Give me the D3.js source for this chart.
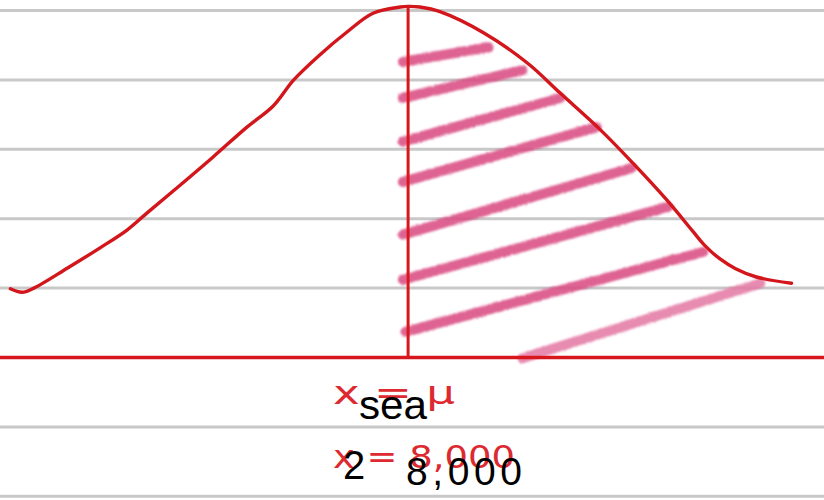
<!DOCTYPE html>
<html>
<head>
<meta charset="utf-8">
<script src="https://cdn.jsdelivr.net/npm/d3@7"></script>
<style>
  html, body { margin: 0; padding: 0; background: #ffffff; }
  svg { display: block; }
</style>
</head>
<body>
<svg id="chart" width="824" height="500"></svg>
<script>
// Ruled notebook lines, in line units (0 = the baseline axis)
const ruledLines = [5, 4, 3, 2, 1, -1, -2];
const axisLevel = 0;
const meanX = 0;

// Hand-drawn bell curve: x in standard deviations, height in line units
const curveX = [-3.06, -2.97, -2.88, -2.62, -2.37, -2.16, -2.01, -1.75, -1.50, -1.24, -1.04, -0.88, -0.68, -0.47, -0.27, -0.06, 0.00,
                0.09, 0.25, 0.58, 0.92, 1.17, 1.48, 1.73, 1.99, 2.19, 2.28, 2.40, 2.52, 2.68, 2.95];
const curveY = [0.99, 0.94, 1.00, 1.29, 1.58, 1.84, 2.08, 2.49, 2.89, 3.32, 3.62, 4.00, 4.36, 4.69, 4.96, 5.05, 5.06,
                5.05, 4.98, 4.68, 4.24, 3.81, 3.28, 2.80, 2.27, 1.82, 1.62, 1.42, 1.28, 1.16, 1.07];
const peakY = 5.06;

// Shading strokes over the right half (start and end of each stroke)
const hatchX0 = [-0.04, -0.04, -0.04, -0.04, -0.04, -0.04, -0.02, 0.88];
const hatchY0 = [4.26, 3.74, 3.11, 2.53, 1.77, 1.12, 0.37, -0.01];
const hatchX1 = [0.62, 0.88, 1.17, 1.45, 1.72, 2.00, 2.27, 2.71];
const hatchY1 = [4.47, 4.14, 3.74, 3.32, 2.73, 2.17, 1.52, 1.07];

// Handwritten annotations under the mean line, and their typed transcription
const noteLines = ["x = μ", "x = 8,000"];
const typedWords = ["sea", "2", "8,000"];

const W = 824, H = 500;
const svg = d3.select("#chart");

const x = d3.scaleLinear().domain([-3.14, 3.2]).range([0, W]);
const y = d3.scaleLinear().domain([0, 5]).range([357.5, 10.5]);

// Pencil-like grain for the shading strokes
const defs = svg.append("defs");
const grain = defs.append("filter").attr("id", "pencil")
  .attr("x", "-5%").attr("y", "-30%").attr("width", "110%").attr("height", "160%");
grain.append("feTurbulence").attr("type", "fractalNoise").attr("baseFrequency", 0.9)
  .attr("numOctaves", 2).attr("seed", 3).attr("result", "noise");
grain.append("feDisplacementMap").attr("in", "SourceGraphic").attr("in2", "noise")
  .attr("scale", 3).attr("xChannelSelector", "R").attr("yChannelSelector", "G").attr("result", "rough");
grain.append("feGaussianBlur").attr("in", "rough").attr("stdDeviation", 0.8);

// Ruled lines
svg.append("g").selectAll("line").data(ruledLines).join("line")
  .attr("x1", 0).attr("x2", W)
  .attr("y1", d => y(d)).attr("y2", d => y(d))
  .attr("stroke", "#c8c8c8").attr("stroke-width", 3);

// Shading
const hatch = d3.range(hatchX0.length).map(i => ({
  x0: hatchX0[i], y0: hatchY0[i], x1: hatchX1[i], y1: hatchY1[i], i
}));
svg.append("g").attr("filter", "url(#pencil)")
  .selectAll("line").data(hatch).join("line")
  .attr("x1", d => x(d.x0)).attr("y1", d => y(d.y0))
  .attr("x2", d => x(d.x1)).attr("y2", d => y(d.y1))
  .attr("stroke", d => d.i === hatch.length - 1 ? "#e47ba5" : "#da4f84")
  .attr("stroke-width", 10)
  .attr("stroke-linecap", "round")
  .attr("opacity", 0.88);

// Baseline axis
svg.append("line")
  .attr("x1", 0).attr("x2", W)
  .attr("y1", y(axisLevel)).attr("y2", y(axisLevel))
  .attr("stroke", "#d8171c").attr("stroke-width", 3.5);

// Mean line
svg.append("line")
  .attr("x1", x(meanX)).attr("x2", x(meanX))
  .attr("y1", y(peakY)).attr("y2", y(axisLevel))
  .attr("stroke", "#d8171c").attr("stroke-width", 3);

// Bell curve
const pts = curveX.map((v, i) => [v, curveY[i]]);
svg.append("path")
  .datum(pts)
  .attr("d", d3.line().x(d => x(d[0])).y(d => y(d[1])).curve(d3.curveCatmullRom.alpha(0.5)))
  .attr("fill", "none")
  .attr("stroke", "#d2161b")
  .attr("stroke-width", 3.4)
  .attr("stroke-linecap", "round")
  .attr("stroke-linejoin", "round");

// Handwritten notes
const notes = svg.append("g")
  .attr("font-family", "'DejaVu Sans', sans-serif")
  .attr("fill", "#dc2a30");
notes.append("text").text(noteLines[0])
  .attr("x", 333).attr("y", 404)
  .attr("font-size", 32)
  .attr("textLength", 122).attr("lengthAdjust", "spacingAndGlyphs");
notes.append("text").text(noteLines[1])
  .attr("x", 333).attr("y", 468)
  .attr("font-size", 32)
  .attr("textLength", 182).attr("lengthAdjust", "spacingAndGlyphs");

// Typed transcription
const typed = svg.append("g")
  .attr("font-family", "'Liberation Sans', Arial, sans-serif")
  .attr("fill", "#000000");
typed.append("text").text(typedWords[0])
  .attr("x", 359).attr("y", 419).attr("font-size", 40)
  .attr("textLength", 68).attr("lengthAdjust", "spacingAndGlyphs");
typed.append("text").text(typedWords[1])
  .attr("x", 343).attr("y", 479).attr("font-size", 40);
typed.append("text").text(typedWords[2])
  .attr("x", 406).attr("y", 485).attr("font-size", 39)
  .attr("textLength", 116).attr("lengthAdjust", "spacing");
</script>
</body>
</html>
